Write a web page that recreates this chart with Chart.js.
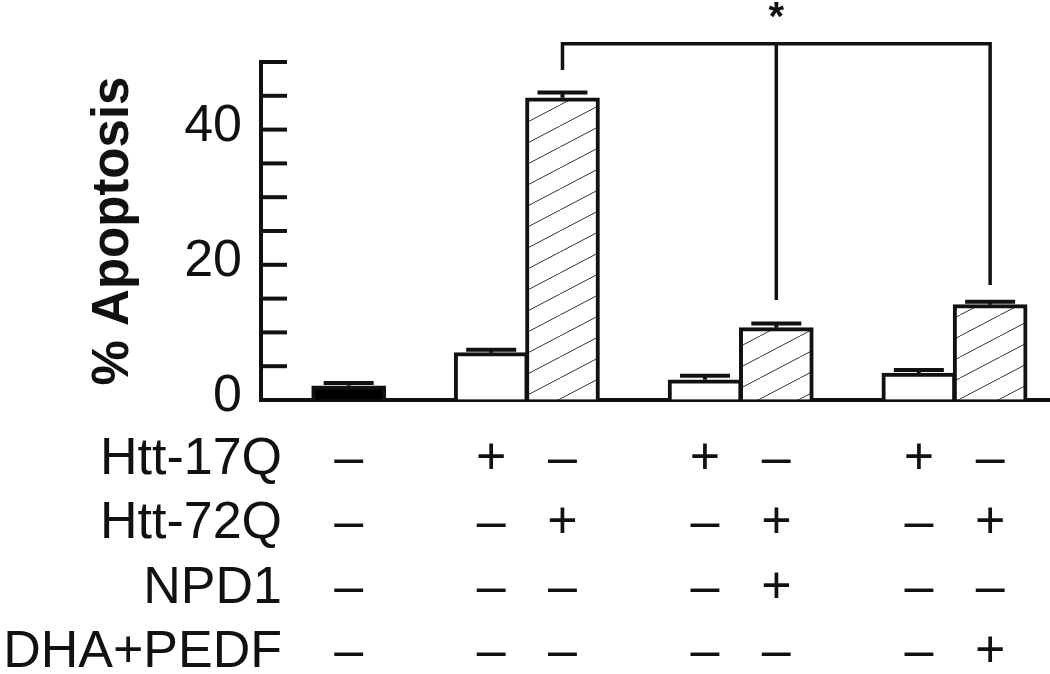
<!DOCTYPE html>
<html>
<head>
<meta charset="utf-8">
<title>% Apoptosis</title>
<script src="https://cdn.jsdelivr.net/npm/chart.js@4.4.1/dist/chart.umd.min.js"></script>
<style>
  html, body { margin: 0; padding: 0; background: #fff; }
  #wrap { width: 1050px; height: 674px; position: relative; }
</style>
</head>
<body>
<div id="wrap"><canvas id="chart"></canvas></div>
<script>
/* % Apoptosis by Htt construct and treatment — bar chart + condition table */

// ── Data ─────────────────────────────────────────────────────────────────────

const conditions = ['Control', '17Q', '72Q', '17Q + NPD1', '72Q + NPD1', '17Q + DHA+PEDF', '72Q + DHA+PEDF'];
const slots      = [0, 2, 3, 5, 6, 8, 9];   // x-axis slot of each condition (pairs, gap between)
const apoptosis  = [2.1, 7.0, 44.7, 3.0, 10.7, 4.0, 14.1];
const sem        = [0.4, 0.45, 0.8, 0.6, 0.6, 0.45, 0.45];

const row_labels = ['Htt-17Q', 'Htt-72Q', 'NPD1', 'DHA+PEDF'];
const htt17q     = [0, 1, 0, 1, 0, 1, 0];
const htt72q     = [0, 0, 1, 0, 1, 0, 1];
const npd1       = [0, 0, 0, 0, 1, 0, 0];
const dha_pedf   = [0, 0, 0, 0, 0, 0, 1];

const y_labels   = [0, 20, 40];

// significance bracket: 72Q vs 72Q+NPD1 and 72Q+DHA+PEDF
const bracket_bars  = [2, 4, 6];
const bracket_ends  = [48.8, 14.8, 17.0];
const bracket_level = 52.7;
const star_level    = 56.3;

// ── Styling ──────────────────────────────────────────────────────────────────

const INK = '#111';
const FONT = "'Liberation Sans', Arial, sans-serif";

function make_hatch() {
  const c = document.createElement('canvas');
  c.width = 40; c.height = 21;
  const g = c.getContext('2d');
  g.fillStyle = '#fff';
  g.fillRect(0, 0, 40, 21);
  g.strokeStyle = '#333';
  g.lineWidth = 1;
  g.beginPath();
  [-40, 0, 40].forEach(dx => { g.moveTo(dx, 21); g.lineTo(dx + 40, 0); });
  g.stroke();
  return g.createPattern(c, 'repeat');
}

const HATCH = make_hatch();
// 72Q bars hatched, 17Q bars open, control solid
const fills = conditions.map((_, i) => htt72q[i] ? HATCH : (htt17q[i] ? '#fff' : '#000'));

// ── Extras: inward ticks, error caps, bracket, condition table ───────────────

const extras = {
  id: 'extras',
  afterDraw(chart) {
    const { ctx, chartArea: area } = chart;
    const y = chart.scales.y;
    const bars = chart.getDatasetMeta(0).data;
    ctx.save();
    ctx.strokeStyle = INK;
    ctx.fillStyle = INK;
    ctx.lineWidth = 4;

    // y ticks point into the plot
    y.ticks.forEach(t => {
      const py = y.getPixelForValue(t.value);
      ctx.beginPath();
      ctx.moveTo(area.left, py);
      ctx.lineTo(area.left + 26, py);
      ctx.stroke();
    });

    // upper error bars only
    bars.forEach((b, i) => {
      const top = y.getPixelForValue(apoptosis[i] + sem[i]);
      ctx.beginPath();
      ctx.moveTo(b.x, b.y);
      ctx.lineTo(b.x, top);
      ctx.moveTo(b.x - 25, top);
      ctx.lineTo(b.x + 25, top);
      ctx.stroke();
    });

    // bracket
    const level = y.getPixelForValue(bracket_level);
    ctx.lineWidth = 3.5;
    ctx.beginPath();
    ctx.moveTo(bars[bracket_bars[0]].x - 1.75, level);
    ctx.lineTo(bars[bracket_bars[bracket_bars.length - 1]].x + 1.75, level);
    bracket_bars.forEach((k, j) => {
      ctx.moveTo(bars[k].x, level);
      ctx.lineTo(bars[k].x, y.getPixelForValue(bracket_ends[j]));
    });
    ctx.stroke();

    ctx.textBaseline = 'middle';
    ctx.textAlign = 'center';
    ctx.font = `bold 40px ${FONT}`;
    ctx.fillText('*', bars[bracket_bars[1]].x, y.getPixelForValue(star_level));

    // condition table under the axis
    ctx.font = `52px ${FONT}`;
    [htt17q, htt72q, npd1, dha_pedf].forEach((flags, r) => {
      const py = area.bottom + 59.5 + 64.5 * r;
      ctx.textAlign = 'right';
      ctx.fillText(row_labels[r], area.left + 21, py);
      ctx.textAlign = 'center';
      flags.forEach((f, i) => ctx.fillText(f ? '+' : '\u2013', bars[i].x, py));
    });
    ctx.restore();
  }
};

// ── Chart ────────────────────────────────────────────────────────────────────

new Chart(document.getElementById('chart'), {
  type: 'bar',
  data: {
    datasets: [{
      label: '% Apoptosis',
      data: slots.map((s, i) => ({ x: s, y: apoptosis[i] })),
      backgroundColor: fills,
      borderColor: INK,
      borderWidth: 4,
      barThickness: 74,
    }],
  },
  options: {
    responsive: true,
    maintainAspectRatio: false,
    animation: false,
    events: [],
    layout: { padding: { top: 62, bottom: 274, left: 0, right: 0 } },
    plugins: {
      legend: { display: false },
      tooltip: { enabled: false },
    },
    scales: {
      x: {
        type: 'linear',
        min: -1.23,
        max: 9.84,
        offset: false,
        grid: { display: false },
        ticks: { display: false },
        border: { display: true, color: INK, width: 4 },
        afterFit: s => { s.height = 0; },
      },
      y: {
        min: 0,
        max: 50,
        ticks: {
          stepSize: 5,
          autoSkip: false,
          padding: 19,
          labelOffset: -3,
          color: INK,
          font: { size: 52, family: FONT },
          callback: v => y_labels.includes(v) ? v : '',
        },
        grid: { display: true, drawOnChartArea: false, drawTicks: false },
        border: { display: true, color: INK, width: 4 },
        title: {
          display: true,
          text: '% Apoptosis',
          color: INK,
          font: { size: 51, weight: 'bold', family: FONT },
          padding: { top: 83, bottom: 0 },
        },
        afterFit: s => { s.width = 261; },
      },
    },
  },
  plugins: [extras],
});
</script>
</body>
</html>
